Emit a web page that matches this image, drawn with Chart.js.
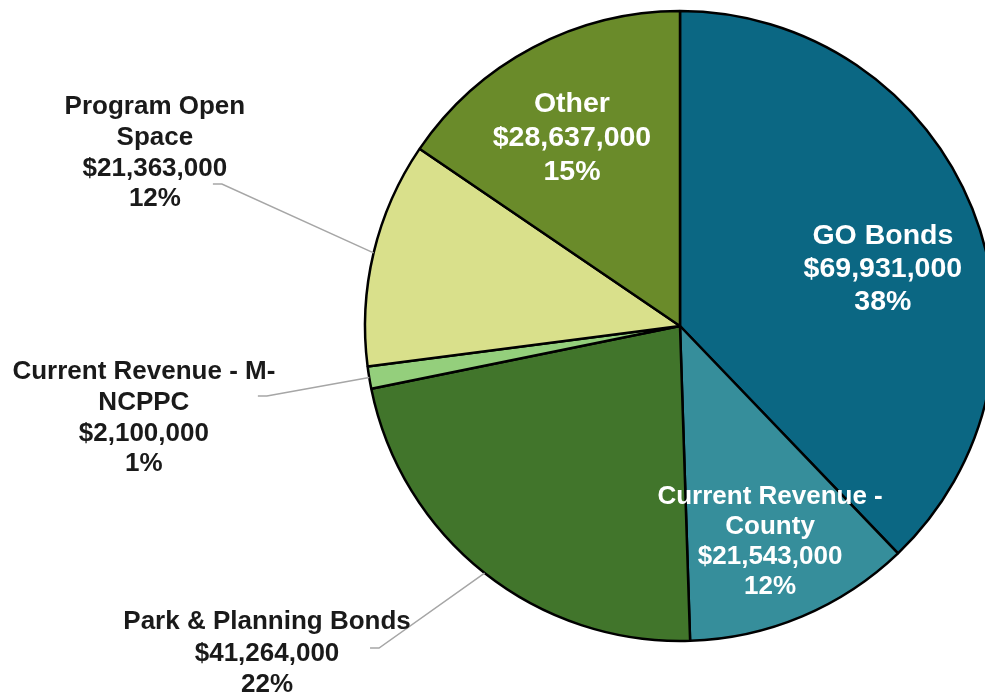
<!DOCTYPE html>
<html>
<head>
<meta charset="utf-8">
<script src="https://cdn.jsdelivr.net/npm/chart.js@4/dist/chart.umd.min.js"></script>
<style>
  html, body { margin: 0; padding: 0; background: #ffffff; }
  #wrap { width: 985px; height: 696px; overflow: hidden; position: relative; }
  canvas { display: block; }
</style>
</head>
<body>
<div id="wrap"><canvas id="c" width="1000" height="696"></canvas></div>
<script>
// ---- data ----
const categories = ['GO Bonds', 'Current Revenue - County', 'Park & Planning Bonds', 'Current Revenue - M-NCPPC', 'Program Open Space', 'Other'];
const amounts = [69931000, 21543000, 41264000, 2100000, 21363000, 28637000];
const labelLines = [['GO Bonds'], ['Current Revenue -', 'County'], ['Park & Planning Bonds'], ['Current Revenue - M-', 'NCPPC'], ['Program Open', 'Space'], ['Other']];
const sliceColors = ['#0b6783', '#368e9b', '#41752b', '#94cf7c', '#d9e08b', '#6a8b2a'];

// label placement (relative to pie centre, in units of radius)
const labelPos = [[0.644, -0.181], [0.286, 0.684], [-1.311, 1.040], [-1.702, 0.292], [-1.667, -0.549], [-0.343, -0.597]];
const labelInside = [true, true, false, false, false, true];
const labelFont = [28.5, 26, 26, 26, 26, 28.5];
const labelLineH = [33, 30, 31.5, 30.8, 30.8, 34];
// leader line start, offset from label block centre (px)
const leaderStart = [null, null, [103, -5.5], [114, -22], [58, 31], null];

const total = amounts.reduce((a, b) => a + b, 0);
const fmt = v => '$' + v.toLocaleString('en-US');

const labelPlugin = {
  id: 'sliceLabels',
  afterDatasetsDraw(chart) {
    const ctx = chart.ctx;
    const meta = chart.getDatasetMeta(0);
    meta.data.forEach((arc, i) => {
      const p = arc.getProps(['x', 'y', 'startAngle', 'endAngle', 'outerRadius'], true);
      const r = p.outerRadius;
      const bx = p.x + labelPos[i][0] * r;
      const by = p.y + labelPos[i][1] * r;
      const lines = labelLines[i].concat([fmt(amounts[i]), Math.round(amounts[i] / total * 100) + '%']);
      // leader line
      if (leaderStart[i]) {
        const mid = (p.startAngle + p.endAngle) / 2;
        const ex = p.x + Math.cos(mid) * r;
        const ey = p.y + Math.sin(mid) * r;
        const sx = bx + leaderStart[i][0];
        const sy = by + leaderStart[i][1];
        ctx.save();
        ctx.strokeStyle = '#a6a6a6';
        ctx.lineWidth = 1.5;
        ctx.beginPath();
        ctx.moveTo(sx, sy);
        ctx.lineTo(sx + 9, sy);
        ctx.lineTo(ex, ey);
        ctx.stroke();
        ctx.restore();
      }
      ctx.save();
      ctx.font = 'bold ' + labelFont[i] + 'px "Liberation Sans", Arial, sans-serif';
      ctx.fillStyle = labelInside[i] ? '#ffffff' : '#1a1a1a';
      ctx.textAlign = 'center';
      ctx.textBaseline = 'middle';
      const lh = labelLineH[i];
      const y0 = by - (lines.length - 1) / 2 * lh;
      lines.forEach((t, k) => ctx.fillText(t, bx, y0 + k * lh));
      ctx.restore();
    });
  }
};

new Chart(document.getElementById('c'), {
  type: 'pie',
  data: {
    labels: categories,
    datasets: [{
      data: amounts,
      backgroundColor: sliceColors,
      borderColor: '#000000',
      borderWidth: 2.5,
      hoverBorderWidth: 2.5,
      hoverOffset: 0,
      offset: 0
    }]
  },
  options: {
    responsive: false,
    animation: false,
    devicePixelRatio: 1,
    radius: 315,
    layout: { padding: { left: 365, right: 5, top: 11, bottom: 55 } },
    plugins: { legend: { display: false }, tooltip: { enabled: false } },
    events: []
  },
  plugins: [labelPlugin]
});
</script>
</body>
</html>
